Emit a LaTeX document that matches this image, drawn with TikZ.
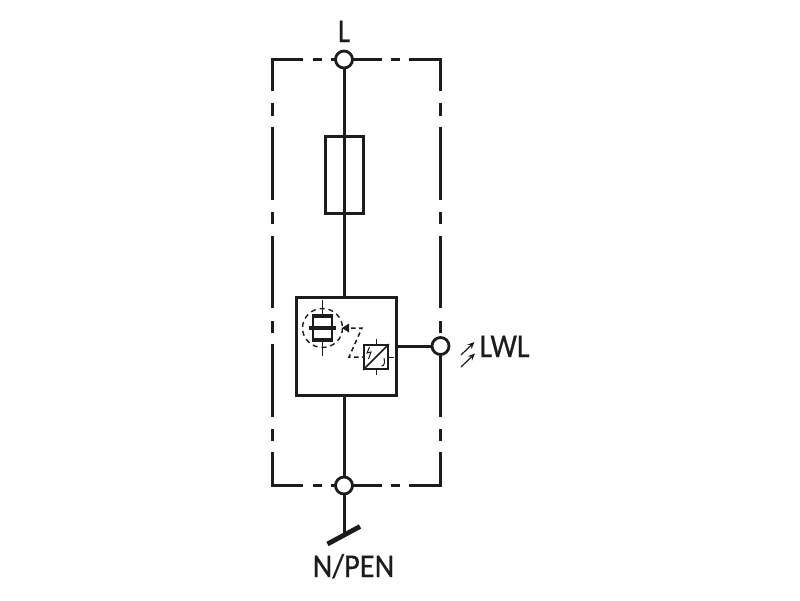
\documentclass[tikz,border=0pt]{standalone}
\usepackage{fontspec}
\setmainfont{Carlito}
\newfontfamily\labfont[FakeBold=0.5]{Carlito}
\usetikzlibrary{arrows.meta,calc}
\definecolor{ink}{HTML}{1C1C1C}
\tikzset{
  wire/.style={draw=ink,line width=3pt},
  frameline/.style={draw=ink,line width=3pt},
  terminal/.style={circle,draw=ink,line width=2.8pt,fill=white,minimum size=17pt,inner sep=0pt},
  boxshape/.style={rectangle,draw=ink,line width=3pt,fill=white,inner sep=0pt},
  thin line/.style={draw=ink,line width=1.3pt},
  dashedctl/.style={draw=ink,line width=1.5pt,dash pattern=on 4.5pt off 3.5pt},
  label/.style={text=ink,inner sep=0pt,font=\labfont\fontsize{32}{32}\selectfont},
  ray/.style={draw=ink,line width=1.2pt,-{Stealth[length=7pt,width=6pt]}}
}
\begin{document}
\begin{tikzpicture}[x=1pt,y=-1pt]
\useasboundingbox (0,0) rectangle (800,600);
% enclosure
\draw[frameline] (303,59.5) -- (272.5,59.5) -- (272.5,91);
\draw[frameline] (313,59.5) -- (322,59.5);
\draw[frameline] (331,59.5) -- (382,59.5);
\draw[frameline] (391,59.5) -- (400,59.5);
\draw[frameline] (409,59.5) -- (440.5,59.5) -- (440.5,91);
\draw[frameline] (303,485.5) -- (272.5,485.5) -- (272.5,452);
\draw[frameline] (313,485.5) -- (322,485.5);
\draw[frameline] (331,485.5) -- (382,485.5);
\draw[frameline] (391,485.5) -- (400,485.5);
\draw[frameline] (409,485.5) -- (440.5,485.5) -- (440.5,452);
\foreach \a/\b in {103/116,127/200,212/224,236/308,321/333,344/417,429/441}{
  \draw[frameline] (272.5,\a) -- (272.5,\b);
}
\foreach \a/\b in {103/116,127/200,212/224,236/308,321/333,346/417,429/441}{
  \draw[frameline] (440.5,\a) -- (440.5,\b);
}
% main nodes
\node[boxshape,minimum width=38pt,minimum height=77pt] (fuse) at (344,174.5) {};
\node[boxshape,minimum width=100pt,minimum height=98pt] (spd) at (346,346) {};
\node[terminal] (tL) at (344,59.5) {};
\node[terminal] (tN) at (344,485.5) {};
\node[terminal] (tW) at (440.5,346) {};
\coordinate (gnd) at (344,535);
\coordinate (barA) at (327.5,544);
\coordinate (barB) at (360,526.5);
\draw[wire] (tL) -- (fuse.north -| tL);
\draw[wire] (tL |- fuse.north) -- (tL |- fuse.south);
\draw[wire] (tL |- fuse.south) -- (tL |- spd.north);
\draw[wire] (tL |- spd.south) -- (tN);
\draw[wire] (tN) -- (gnd);
\draw[draw=ink,line width=4.8pt] (barA) -- (barB);
\draw[wire] (spd.east |- tW) -- (tW);
% spark-gap element
\coordinate (gapC) at (322.5,328);
\draw[draw=ink,line width=1.4pt,dash pattern=on 5pt off 4pt] (gapC) circle [x radius=20,y radius=19.5];
\draw[thin line,fill=white] (313,315) rectangle (332,341);
\draw[draw=ink,line width=4.5pt] (313,316) -- (332,316);
\draw[draw=ink,line width=4.5pt] (313,340) -- (332,340);
\draw[draw=ink,line width=3.4pt] (309,328) -- (336,328);
\draw[thin line] (322.5,300) -- (322.5,314);
\draw[thin line] (322.5,342) -- (322.5,356);
% control path
\fill[ink] (342,328) -- (349,323.5) -- (349,332.5) -- cycle;
\draw[dashedctl] (351,328) -- (362,328) -- (349,357) -- (364,357);
% converter
\node[rectangle,draw=ink,line width=1.8pt,fill=white,minimum size=24pt,inner sep=0pt] (conv) at (376,357) {};
\draw[draw=ink,line width=1.6pt] (conv.south west) -- (conv.north east);
\draw[draw=ink,line width=1pt] (conv.north) -- +(0,-5);
\draw[draw=ink,line width=1pt] (conv.south) -- +(0,5);
\draw[draw=ink,line width=1pt] (conv.east) -- +(5,0);
\draw[draw=ink,line width=1pt] (369.5,347) -- (367,353) -- (371,352) -- (368.5,359);
\draw[draw=ink,line width=1pt] (384,358) .. controls (385,362) and (384.5,366) .. (381.5,366);
% rays
\coordinate (r1a) at (461,355); \coordinate (r1b) at (474.5,342);
\coordinate (r2a) at (461,367); \coordinate (r2b) at (475,353.5);
\draw[ray] (r1a) -- (r1b);
\draw[ray] (r2a) -- (r2b);
% labels
\node[label,anchor=base] (lL) at (344,42) {\scalebox{0.9}[1.04]{L}};
\node[label,anchor=base west] (lW) at (479.5,357) {\scalebox{0.93}[1.04]{LWL}};
\node[label,anchor=base] (lN) at (353.5,577) {\scalebox{0.95}[1.04]{N/PEN}};
\end{tikzpicture}
\end{document}
